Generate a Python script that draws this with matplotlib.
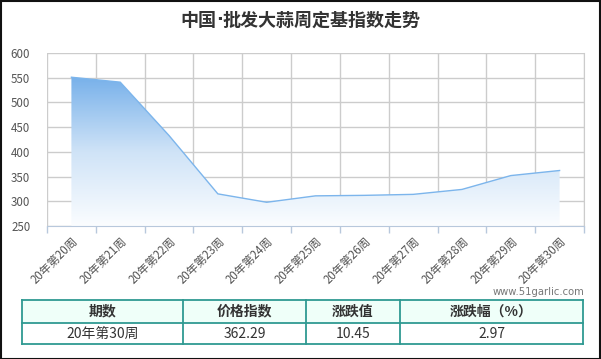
import numpy as np
import matplotlib.pyplot as plt
from matplotlib.colors import LinearSegmentedColormap
from matplotlib.patches import Rectangle

plt.rcParams['font.family'] = ['Noto Sans CJK SC', 'DejaVu Sans']

# chart data
weeks = ['20年第20周', '20年第21周', '20年第22周', '20年第23周', '20年第24周',
         '20年第25周', '20年第26周', '20年第27周', '20年第28周', '20年第29周',
         '20年第30周']
index_values = [551, 541, 433, 315, 298, 311, 312, 314, 324, 352, 362.29]
y_ticks = [250, 300, 350, 400, 450, 500, 550, 600]

# table data
table_header = ['期数', '价格指数', '涨跌值', '涨跌幅（%）']
table_row = ['20年第30周', '362.29', '10.45', '2.97']

W, H = 601, 359
fig = plt.figure(figsize=(W / 100, H / 100), dpi=100)
fig.patch.set_facecolor('white')

def fx(px):
    return px / W

def fy(py):
    return 1 - py / H

# plot area
ax = fig.add_axes([fx(47), fy(226), fx(584) - fx(47), fy(53) - fy(226)])
x = np.arange(len(weeks))

# gradient area under the line
fill = ax.fill_between(x, index_values, 250, color='none', lw=0)
cmap = LinearSegmentedColormap.from_list('blues', ['#fbfdff', '#cfe3f7', '#78b1ea'])
grad = np.linspace(0, 1, 256).reshape(-1, 1)
img = ax.imshow(grad, cmap=cmap, aspect='auto', origin='lower',
                extent=[x[0], x[-1], 250, max(index_values)], zorder=1)
img.set_clip_path(fill.get_paths()[0], transform=ax.transData)
ax.plot(x, index_values, color='#7cb5ec', lw=1, zorder=3)

ax.set_xlim(-0.5, len(weeks) - 0.5)
ax.set_ylim(250, 600)
ax.set_yticks(y_ticks)
ax.set_xticks(x)
ax.set_xticklabels(weeks, rotation=45, ha='right', va='top',
                   rotation_mode='anchor', fontsize=8.3, color='#555555')
ax.set_xticks(np.arange(-0.5, len(weeks)), minor=True)
ax.tick_params(axis='x', which='major', length=0, pad=6)
ax.tick_params(axis='x', which='minor', length=5, color='#b8c8dc', width=1)
ax.tick_params(axis='y', length=0, labelsize=8.3, labelcolor='#555555', pad=12)
ax.grid(axis='y', color='#cccccc', lw=1, zorder=0)
ax.grid(axis='x', which='minor', color='#cccccc', lw=1, zorder=0)
ax.set_axisbelow(True)
for side in ['top', 'left']:
    ax.spines[side].set_visible(False)
ax.spines['right'].set_color('#cccccc')
ax.spines['bottom'].set_color('#b8c8dc')

# title in three pieces so the middle dot stays narrow
title_parts = ['中国', '·', '批发大蒜周定基指数走势']
title_fams = [['Noto Sans CJK SC'], ['DejaVu Sans'], ['Noto Sans CJK SC']]
renderer = fig.canvas.get_renderer()
texts = []
for part, fam in zip(title_parts, title_fams):
    t = fig.text(0, fy(20), part, ha='left', va='center', fontsize=13,
                 fontweight='bold', color='#333333', family=fam)
    texts.append(t)
widths = [t.get_window_extent(renderer).width for t in texts]
left = (W - sum(widths)) / 2
for t, w in zip(texts, widths):
    t.set_x(fx(left))
    left += w

fig.text(fx(584), fy(292), 'www.51garlic.com', ha='right', va='center',
         fontsize=7.2, color='#777777', family=['DejaVu Sans'])

# table below the chart
col_edges = [22, 183, 306, 400, 583]
row_edges = [300, 323, 344]
border = '#2f9a92'
fig.patches.append(Rectangle((fx(22), fy(323)), fx(583) - fx(22), fy(300) - fy(323),
                             transform=fig.transFigure, facecolor='#effff9',
                             edgecolor='none'))
for c in col_edges:
    fig.add_artist(plt.Line2D([fx(c), fx(c)], [fy(300), fy(344)], color=border, lw=1.3))
for r in row_edges:
    fig.add_artist(plt.Line2D([fx(22), fx(583)], [fy(r), fy(r)], color=border, lw=1.3))
for i in range(len(table_header)):
    cx = (col_edges[i] + col_edges[i + 1]) / 2
    fig.text(fx(cx), fy(311.5), table_header[i], ha='center', va='center',
             fontsize=10, fontweight='bold', color='#333333')
    fig.text(fx(cx), fy(333.5), table_row[i], ha='center', va='center',
             fontsize=10, color='#333333')

# outer frame
fig.patches.append(Rectangle((0.5 / W, 0.5 / H), 1 - 2 / W, 1 - 1.5 / H,
                             transform=fig.transFigure, facecolor='none',
                             edgecolor='#111111', lw=1.5))

fig.savefig('out.png', dpi=100)
